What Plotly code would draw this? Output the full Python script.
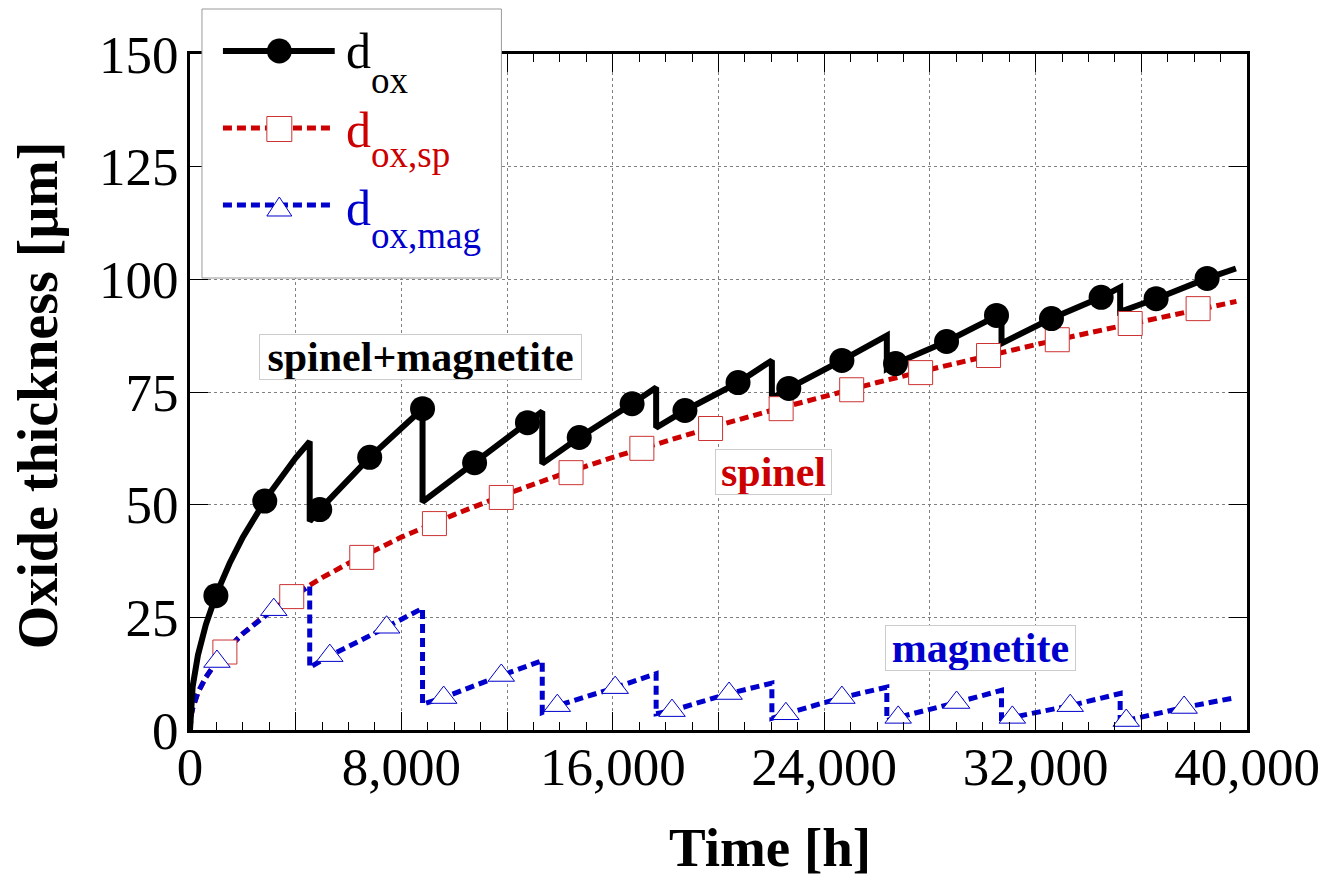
import plotly.graph_objects as go

# ---------------- data ----------------
t_sp = [0, 20, 50, 100, 300, 600, 1000, 1500, 2000, 3000, 4000, 5000, 6000, 8000, 10000,
        12000, 14000, 16000, 18000, 20000, 22000, 24000, 26000, 28000, 30000, 32000,
        34000, 36000, 38000, 39600]
d_sp = [0, 2.1, 3.4, 4.8, 8.3, 11.7, 15.1, 18.5, 21.4, 26.2, 30.2, 33.8, 37.0, 42.8, 47.8,
        52.4, 56.6, 60.5, 64.1, 67.6, 70.9, 74.1, 77.1, 80.0, 82.8, 85.5,
        88.1, 90.7, 93.2, 95.1]

t_mag = [0, 20, 50, 100, 300, 600, 1000, 1500, 2000, 3000, 4000, 4530, 4530, 5290, 6500,
         7440, 8800, 8800, 9600, 11780, 13330, 13330, 13900, 16090, 17640, 17640, 18240,
         20400, 22020, 22020, 22550, 24670, 26370, 26370, 26800, 29010, 30710, 30710,
         31120, 33310, 35200, 35200, 35430, 37620, 39580]
d_mag = [0, 2.1, 3.4, 4.8, 8.3, 11.7, 15.1, 18.5, 21.4, 26.0, 30.0, 32.0, 13.9, 16.5, 20.0,
         22.8, 27.0, 5.7, 7.2, 12.1, 15.4, 3.9, 5.4, 9.4, 12.5, 3.6, 4.3,
         8.1, 10.4, 2.6, 3.6, 7.2, 9.5, 2.1, 2.8, 6.1, 8.8, 1.7,
         2.8, 5.4, 8.1, 1.7, 2.1, 5.0, 7.2]

t_ox = [0, 20, 50, 100, 300, 600, 1000, 1500, 2000, 3000, 4000, 4530, 4530, 4910, 6800,
        8800, 8800, 10770, 12770, 13330, 13330, 14730, 16730, 17640, 17640, 18730, 20740,
        22020, 22020, 22660, 24670, 26370, 26370, 26700, 28630, 30520, 30710, 30710,
        32600, 34480, 35200, 35200, 36560, 38490, 39580]
d_ox = [0, 4.3, 6.8, 9.6, 16.6, 23.4, 30.2, 37.0, 42.8, 52.4, 60.4, 64.0, 46.3, 48.9, 60.5,
        71.3, 50.6, 59.3, 68.2, 70.7, 59.1, 64.9, 72.4, 76.0, 67.1, 70.9, 77.1,
        82.0, 73.6, 75.8, 82.0, 87.5, 80.2, 81.3, 86.2, 92.0, 92.4, 85.8,
        91.3, 96.0, 98.2, 92.8, 95.7, 100.2, 102.4]

# marker positions
ox_mt = [980, 2830, 4910, 6800, 8800, 10770, 12770, 14730, 16730, 18730, 20740, 22660,
         24670, 26700, 28630, 30520, 32600, 34480, 36560, 38490]
ox_mv = [29.8, 50.8, 48.9, 60.5, 71.3, 59.3, 68.2, 64.9, 72.4, 70.9, 77.1, 75.8,
         82.0, 81.3, 86.2, 92.0, 91.3, 96.0, 95.7, 100.2]
sp_mt = [1320, 3850, 6500, 9250, 11780, 14420, 17100, 19700, 22370, 25040, 27650, 30220,
         32820, 35580, 38150]
sp_mv = [17.3, 29.6, 38.3, 45.8, 51.6, 57.1, 62.5, 66.9, 71.3, 75.5, 79.3, 83.1,
         86.6, 90.2, 93.5]
mag_mt = [1020, 3170, 5290, 7440, 9600, 11780, 13900, 16090, 18240, 20400, 22550, 24670,
          26800, 29010, 31120, 33310, 35430, 37620]
mag_mv = [15.2, 26.7, 16.5, 22.8, 7.2, 12.1, 5.4, 9.4, 4.3, 8.1, 3.6, 7.2,
          2.8, 6.1, 2.8, 5.4, 2.1, 5.0]

x_tick_vals = [0, 4000, 8000, 12000, 16000, 20000, 24000, 28000, 32000, 36000, 40000]
x_tick_text = ["0", "", "8,000", "", "16,000", "", "24,000", "", "32,000", "", "40,000"]
y_tick_vals = [0, 25, 50, 75, 100, 125, 150]

x_title = "Time [h]"
y_title = "Oxide thickness [\u03bcm]"
legend_main = ["d", "d", "d"]
legend_sub = ["ox", "ox,sp", "ox,mag"]
region_labels = ["spinel+magnetite", "spinel", "magnetite"]

# ---------------- style ----------------
BLACK = "#000000"
RED = "#cc0000"
BLUE = "#0000cc"
SERIF = "Liberation Serif"
W, H = 1332, 878
L, R, T, B = 190, 1249, 54, 730  # plot area in pixels


def px2x(px):
    return (px - L) / (R - L)


def py2y(py):
    return (B - py) / (B - T)


fig = go.Figure()

fig.add_trace(go.Scatter(x=t_sp, y=d_sp, mode="lines",
                         line=dict(color=RED, width=5, dash="9px,5px"), showlegend=False))
fig.add_trace(go.Scatter(x=t_mag, y=d_mag, mode="lines",
                         line=dict(color=BLUE, width=5, dash="9px,5px"), showlegend=False))
fig.add_trace(go.Scatter(x=t_ox, y=d_ox, mode="lines",
                         line=dict(color=BLACK, width=6), showlegend=False))
fig.add_trace(go.Scatter(x=sp_mt, y=sp_mv, mode="markers",
                         marker=dict(symbol="square", size=24, color="white",
                                     line=dict(color="#cc3333", width=1)), showlegend=False))
fig.add_trace(go.Scatter(x=mag_mt, y=mag_mv, mode="markers",
                         marker=dict(symbol="triangle-up", size=23, color="white",
                                     line=dict(color=BLUE, width=1)), showlegend=False))
fig.add_trace(go.Scatter(x=ox_mt, y=ox_mv, mode="markers",
                         marker=dict(symbol="circle", size=25, color=BLACK,
                                     line=dict(width=0)), showlegend=False))

# ---------------- legend (drawn by hand) ----------------
shapes = []
shapes.append(dict(type="rect", xref="paper", yref="paper", layer="above",
                   x0=px2x(202), x1=px2x(502), y0=py2y(278), y1=py2y(9),
                   fillcolor="white", line=dict(color="#999999", width=1)))
leg_y = [51, 128, 205]
leg_col = [BLACK, RED, BLUE]
leg_dash = ["solid", "9px,5px", "9px,5px"]
leg_w = [6, 5, 5]
for yy, c, d, w in zip(leg_y, leg_col, leg_dash, leg_w):
    shapes.append(dict(type="line", xref="paper", yref="paper", layer="above",
                       x0=px2x(223), x1=px2x(335), y0=py2y(yy), y1=py2y(yy),
                       line=dict(color=c, width=w, dash=d)))
cx = 279.5
shapes.append(dict(type="circle", xref="paper", yref="paper", layer="above",
                   x0=px2x(cx - 12.5), x1=px2x(cx + 12.5), y0=py2y(51 + 12.5), y1=py2y(51 - 12.5),
                   fillcolor=BLACK, line=dict(width=0)))
shapes.append(dict(type="rect", xref="paper", yref="paper", layer="above",
                   x0=px2x(cx - 12.5), x1=px2x(cx + 12.5), y0=py2y(129 + 12.5), y1=py2y(129 - 12.5),
                   fillcolor="white", line=dict(color="#cc3333", width=1)))
tri = "M {:.5f},{:.5f} L {:.5f},{:.5f} L {:.5f},{:.5f} Z".format(
    px2x(cx - 12.5), py2y(216), px2x(cx + 12.5), py2y(216), px2x(cx), py2y(197))
shapes.append(dict(type="path", xref="paper", yref="paper", layer="above", path=tri,
                   fillcolor="white", line=dict(color=BLUE, width=1)))

annotations = []
main_base = [68, 147, 225]
sub_base = [93, 167, 248]
for m, s, c, mb, sb in zip(legend_main, legend_sub, leg_col, main_base, sub_base):
    annotations.append(dict(xref="paper", yref="paper", x=px2x(344), y=py2y(mb - 0.34 * 50),
                            xanchor="left", yanchor="middle", showarrow=False, text=m,
                            font=dict(family=SERIF, size=50, color=c)))
    annotations.append(dict(xref="paper", yref="paper", x=px2x(369), y=py2y(sb - 0.34 * 37),
                            xanchor="left", yanchor="middle", showarrow=False, text=s,
                            font=dict(family=SERIF, size=37, color=c)))

# region labels
lab_pos = [(421, 357), (775, 472), (982, 648)]
lab_col = [BLACK, RED, BLUE]
lab_w = [321, 115, 189]
for txt, (lx, ly), c, wbox in zip(region_labels, lab_pos, lab_col, lab_w):
    annotations.append(dict(xref="paper", yref="paper", x=px2x(lx), y=py2y(ly),
                            xanchor="center", yanchor="middle", showarrow=False,
                            text="<b>" + txt + "</b>",
                            font=dict(family=SERIF, size=42, color=c),
                            bgcolor="white", bordercolor="#cccccc", borderwidth=1,
                            borderpad=0, width=wbox, height=44))

# axis titles
annotations.append(dict(xref="paper", yref="paper", x=px2x(771), y=py2y(866 - 0.34 * 55),
                        xanchor="center", yanchor="middle", showarrow=False,
                        text="<b>" + x_title + "</b>",
                        font=dict(family=SERIF, size=55, color=BLACK)))
annotations.append(dict(xref="paper", yref="paper", x=px2x(38), y=py2y(395),
                        xanchor="center", yanchor="middle", showarrow=False, textangle=-90,
                        text="<b>" + y_title + "</b>",
                        font=dict(family=SERIF, size=56, color=BLACK)))

fig.update_layout(
    width=W, height=H,
    margin=dict(l=L, r=W - R, t=T, b=H - B, pad=0),
    paper_bgcolor="white", plot_bgcolor="white",
    shapes=shapes, annotations=annotations,
    showlegend=False,
)
fig.update_xaxes(
    range=[0, 40000], tickmode="array", tickvals=x_tick_vals, ticktext=x_tick_text,
    ticks="inside", ticklen=18, tickwidth=1, tickcolor=BLACK,
    showline=True, linewidth=3, linecolor=BLACK, mirror="ticks",
    showgrid=True, gridcolor="#808080", griddash="dot", gridwidth=1, zeroline=False,
    minor=dict(tickmode="linear", tick0=0, dtick=1000, ticks="inside", ticklen=8,
               tickwidth=1, tickcolor=BLACK, showgrid=False),
    tickfont=dict(family=SERIF, size=53, color=BLACK), ticklabelstandoff=-12,
)
fig.update_yaxes(
    range=[0, 150], tickmode="array", tickvals=y_tick_vals,
    ticks="inside", ticklen=18, tickwidth=1, tickcolor=BLACK,
    showline=True, linewidth=3, linecolor=BLACK, mirror="ticks",
    showgrid=True, gridcolor="#808080", griddash="dot", gridwidth=1, zeroline=False,
    tickfont=dict(family=SERIF, size=53, color=BLACK), ticklabelstandoff=-2,
)

fig.write_html("out.html")
